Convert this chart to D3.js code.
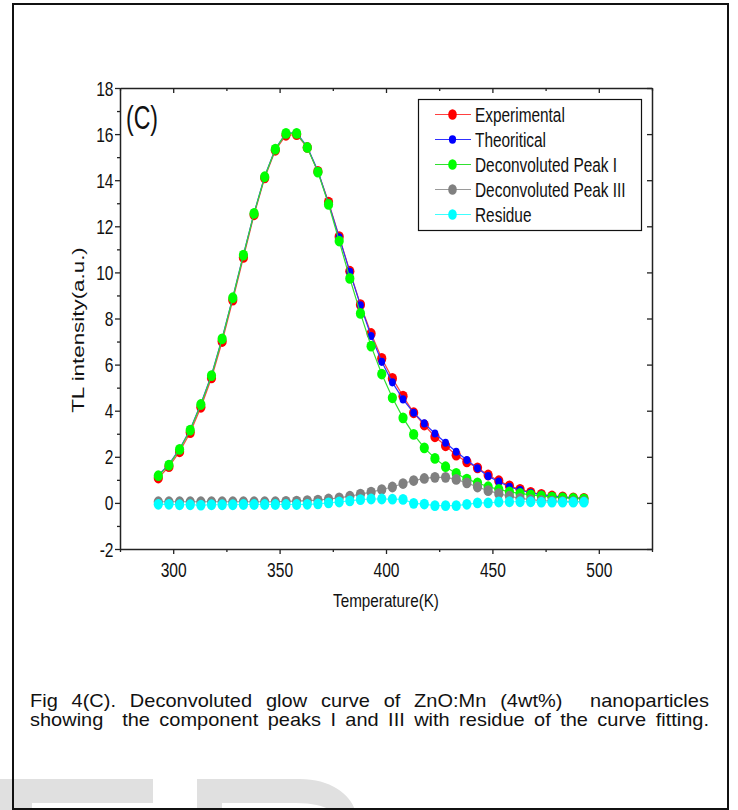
<!DOCTYPE html>
<html>
<head>
<meta charset="utf-8">
<script src="https://cdn.jsdelivr.net/npm/d3@7"></script>
<style>
body { margin: 0; background: #fff; }
svg { display: block; font-family: "Liberation Sans", Arial, sans-serif; }
</style>
</head>
<body>
<svg width="738" height="810"></svg>
<script>
// temperatures (K)
const temps = [293, 298, 303, 308, 313, 318, 323, 328, 333, 338, 343, 348, 353, 358,
    363, 368, 373, 378, 383, 388, 393, 398, 403, 408, 413, 418, 423, 428, 433, 438,
    443, 448, 453, 458, 463, 468, 473, 478, 483, 488, 493];

const experimental = [1.08, 1.57, 2.22, 3.05, 4.15, 5.42, 7.0, 8.8, 10.65, 12.5, 14.1, 15.3,
    15.95, 15.98, 15.42, 14.38, 13.05, 11.55, 10.05, 8.6, 7.35, 6.27, 5.4, 4.63, 3.91, 3.38,
    2.87, 2.48, 2.07, 1.78, 1.52, 1.21, 0.96, 0.74, 0.59, 0.46, 0.37, 0.3, 0.26, 0.22, 0.2];

const theoretical = [1.2, 1.67, 2.35, 3.18, 4.3, 5.55, 7.15, 8.92, 10.77, 12.58, 14.17, 15.36,
    16.04, 16.05, 15.45, 14.4, 13.0, 11.52, 10.02, 8.57, 7.24, 6.12, 5.23, 4.49, 3.91, 3.45,
    3.01, 2.61, 2.22, 1.86, 1.5, 1.16, 0.92, 0.7, 0.55, 0.44, 0.36, 0.3, 0.26, 0.22, 0.2];

const peak1 = [1.18, 1.64, 2.32, 3.16, 4.27, 5.52, 7.12, 8.9, 10.75, 12.56, 14.15, 15.35,
    16.03, 16.03, 15.42, 14.35, 12.95, 11.36, 9.74, 8.22, 6.8, 5.59, 4.56, 3.69, 2.97, 2.39,
    1.93, 1.57, 1.28, 1.03, 0.87, 0.7, 0.59, 0.48, 0.41, 0.35, 0.3, 0.25, 0.22, 0.19, 0.17];

const peak3 = [0.05, 0.05, 0.05, 0.05, 0.05, 0.05, 0.05, 0.05, 0.05, 0.05, 0.05, 0.05,
    0.07, 0.08, 0.1, 0.12, 0.17, 0.22, 0.29, 0.38, 0.47, 0.58, 0.69, 0.84, 0.97, 1.06,
    1.11, 1.11, 1.02, 0.87, 0.69, 0.53, 0.4, 0.29, 0.2, 0.14, 0.1, 0.08, 0.07, 0.06, 0.06];

const residue = [-0.06, -0.06, -0.08, -0.08, -0.1, -0.08, -0.08, -0.08, -0.07, -0.07, -0.07, -0.07,
    -0.07, -0.07, -0.06, -0.04, 0.0, 0.04, 0.09, 0.14, 0.17, 0.17, 0.16, 0.15, -0.02, -0.05,
    -0.12, -0.12, -0.12, -0.06, 0.0, 0.0, 0.04, 0.05, 0.05, 0.05, 0.03, 0.03, 0.03, 0.03, 0.03];

const xMajor = [300, 350, 400, 450, 500];
const xMinor = [275, 325, 375, 425, 475, 525];
const yMajor = [-2, 0, 2, 4, 6, 8, 10, 12, 14, 16, 18];
const yMinor = [-1, 1, 3, 5, 7, 9, 11, 13, 15, 17];

const seriesNames = ["Experimental", "Theoritical", "Deconvoluted Peak I", "Deconvoluted Peak III", "Residue"];

const captionLines = [
    "Fig 4(C). Deconvoluted glow curve of ZnO:Mn (4wt%)  nanoparticles",
    "showing  the component peaks I and III with residue of the curve fitting."
];

const series = [
    { name: seriesNames[0], values: experimental, line: "#ff4040", fill: "#ff0000", rx: 4.6, ry: 5.4 },
    { name: seriesNames[1], values: theoretical, line: "#3030ff", fill: "#0000ff", rx: 3.4, ry: 4.1 },
    { name: seriesNames[2], values: peak1, line: "#30e030", fill: "#00ff00", rx: 4.6, ry: 5.4 },
    { name: seriesNames[3], values: peak3, line: "#9a9a9a", fill: "#808080", rx: 4.6, ry: 5.4 },
    { name: seriesNames[4], values: residue, line: "#40ffff", fill: "#00ffff", rx: 4.6, ry: 5.4 }
];

const svg = d3.select("svg");

// faint watermark at the bottom
svg.append("path")
    .attr("d", "M0,779 H153 V803 H32 V810 H0 Z")
    .attr("fill", "#e0e0e0");
svg.append("path")
    .attr("d", "M197,810 V779 H300 C330,779 350,794 355,810 Z M222,810 V803 H296 C312,803 324,806 330,810 Z")
    .attr("fill", "#e0e0e0")
    .attr("fill-rule", "evenodd");

// outer frame
svg.append("rect")
    .attr("x", 13).attr("y", 4)
    .attr("width", 715).attr("height", 805)
    .attr("fill", "none").attr("stroke", "#111").attr("stroke-width", 2);

const plotL = 120, plotT = 88, plotR = 652, plotB = 549;

const x = d3.scaleLinear().domain([275, 525]).range([plotL, plotR]);
const y = d3.scaleLinear().domain([-2, 18]).range([plotB, plotT]);

const sx = 0.8; // horizontal squeeze of the text

function styleAxis(g) {
    g.select(".domain").attr("stroke", "#222").attr("stroke-width", 1.5);
    g.selectAll(".tick line").attr("stroke", "#222").attr("stroke-width", 1.3);
}

// bottom axis
const gx = svg.append("g").attr("transform", `translate(0,${plotB})`)
    .call(d3.axisBottom(x).tickValues(xMajor).tickSize(5).tickSizeOuter(0).tickFormat(d => String(d)));
styleAxis(gx);
gx.selectAll(".tick text")
    .attr("y", 28).attr("dy", null)
    .attr("font-size", 19.5).attr("fill", "#111")
    .attr("font-family", "Liberation Sans, Arial, sans-serif")
    .attr("transform", `scale(${sx},1)`);
svg.append("g").attr("transform", `translate(0,${plotB})`)
    .call(d3.axisBottom(x).tickValues(xMinor).tickSize(3).tickFormat(""))
    .call(g => g.select(".domain").remove())
    .call(styleAxis);

// top axis, ticks inside
svg.append("g").attr("transform", `translate(0,${plotT})`)
    .call(d3.axisBottom(x).tickValues(xMajor).tickSize(5).tickSizeOuter(0).tickFormat(""))
    .call(styleAxis);
svg.append("g").attr("transform", `translate(0,${plotT})`)
    .call(d3.axisBottom(x).tickValues(xMinor).tickSize(3).tickFormat(""))
    .call(g => g.select(".domain").remove())
    .call(styleAxis);

// left axis
const gy = svg.append("g").attr("transform", `translate(${plotL},0)`)
    .call(d3.axisLeft(y).tickValues(yMajor).tickSize(5).tickSizeOuter(0).tickFormat(d => String(d)));
styleAxis(gy);
gy.selectAll(".tick text")
    .attr("x", -6.5 / sx).attr("dy", "0.36em")
    .attr("font-size", 19.5).attr("fill", "#111")
    .attr("font-family", "Liberation Sans, Arial, sans-serif")
    .attr("transform", `scale(${sx},1)`);
svg.append("g").attr("transform", `translate(${plotL},0)`)
    .call(d3.axisLeft(y).tickValues(yMinor).tickSize(3).tickFormat(""))
    .call(g => g.select(".domain").remove())
    .call(styleAxis);

// right axis, ticks inside
svg.append("g").attr("transform", `translate(${plotR},0)`)
    .call(d3.axisRight(y).tickValues(yMajor).tickSize(-5).tickSizeOuter(0).tickFormat(""))
    .call(styleAxis);

// axis titles
svg.append("text")
    .attr("transform", "translate(386,607) scale(0.82,1)")
    .attr("text-anchor", "middle")
    .attr("font-size", 18.6).attr("fill", "#111")
    .text("Temperature(K)");

svg.append("text")
    .attr("transform", "translate(84,330) rotate(-90) scale(1.3,1)")
    .attr("text-anchor", "middle")
    .attr("font-size", 17.2).attr("fill", "#111")
    .text("TL intensity(a.u.)");

svg.append("text")
    .attr("transform", "translate(126,129) scale(0.7,1)")
    .attr("font-size", 33).attr("fill", "#111")
    .text("(C)");

// series
const line = d3.line().x((d, i) => x(temps[i])).y(d => y(d));

series.forEach(s => {
    svg.append("path")
        .datum(s.values)
        .attr("d", line)
        .attr("fill", "none")
        .attr("stroke", s.line)
        .attr("stroke-width", 1.2);
    svg.append("g").selectAll("ellipse")
        .data(s.values)
        .join("ellipse")
        .attr("cx", (d, i) => x(temps[i]))
        .attr("cy", d => y(d))
        .attr("rx", s.rx).attr("ry", s.ry)
        .attr("fill", s.fill);
});

// legend
const lg = svg.append("g");
lg.append("rect")
    .attr("x", 418.5).attr("y", 99.5)
    .attr("width", 223).attr("height", 131)
    .attr("fill", "white").attr("stroke", "#111").attr("stroke-width", 1.2);

series.forEach((s, i) => {
    const ly = 114.5 + i * 25;
    lg.append("line")
        .attr("x1", 435).attr("x2", 471)
        .attr("y1", ly).attr("y2", ly)
        .attr("stroke", s.line).attr("stroke-width", 1.2);
    lg.append("ellipse")
        .attr("cx", 452.5).attr("cy", ly)
        .attr("rx", i === 1 ? 3.6 : 4.3).attr("ry", i === 1 ? 4.2 : 5.3)
        .attr("fill", s.fill);
    lg.append("text")
        .attr("transform", `translate(475,${ly + 7}) scale(0.79,1)`)
        .attr("font-size", 19.5).attr("fill", "#111")
        .text(s.name);
});

// caption, justified between the margins
const capSize = 20;
function justify(str, x0, x1, yb) {
    const parts = str.split(" ");
    const widths = parts.map(p => {
        if (!p) return 0;
        const tmp = svg.append("text").attr("font-size", capSize).text(p);
        const w = tmp.node().getComputedTextLength();
        tmp.remove();
        return w;
    });
    const gap = (x1 - x0 - d3.sum(widths)) / (parts.length - 1);
    const t = svg.append("text")
        .attr("transform", `translate(0,${yb}) scale(1,0.9)`)
        .attr("font-size", capSize).attr("fill", "#111");
    let cx = x0;
    parts.forEach((p, i) => {
        if (p) t.append("tspan").attr("x", cx).text(p);
        cx += widths[i] + gap;
    });
}

justify(captionLines[0], 30, 709, 707);
justify(captionLines[1], 30, 709, 726);
</script>
</body>
</html>
